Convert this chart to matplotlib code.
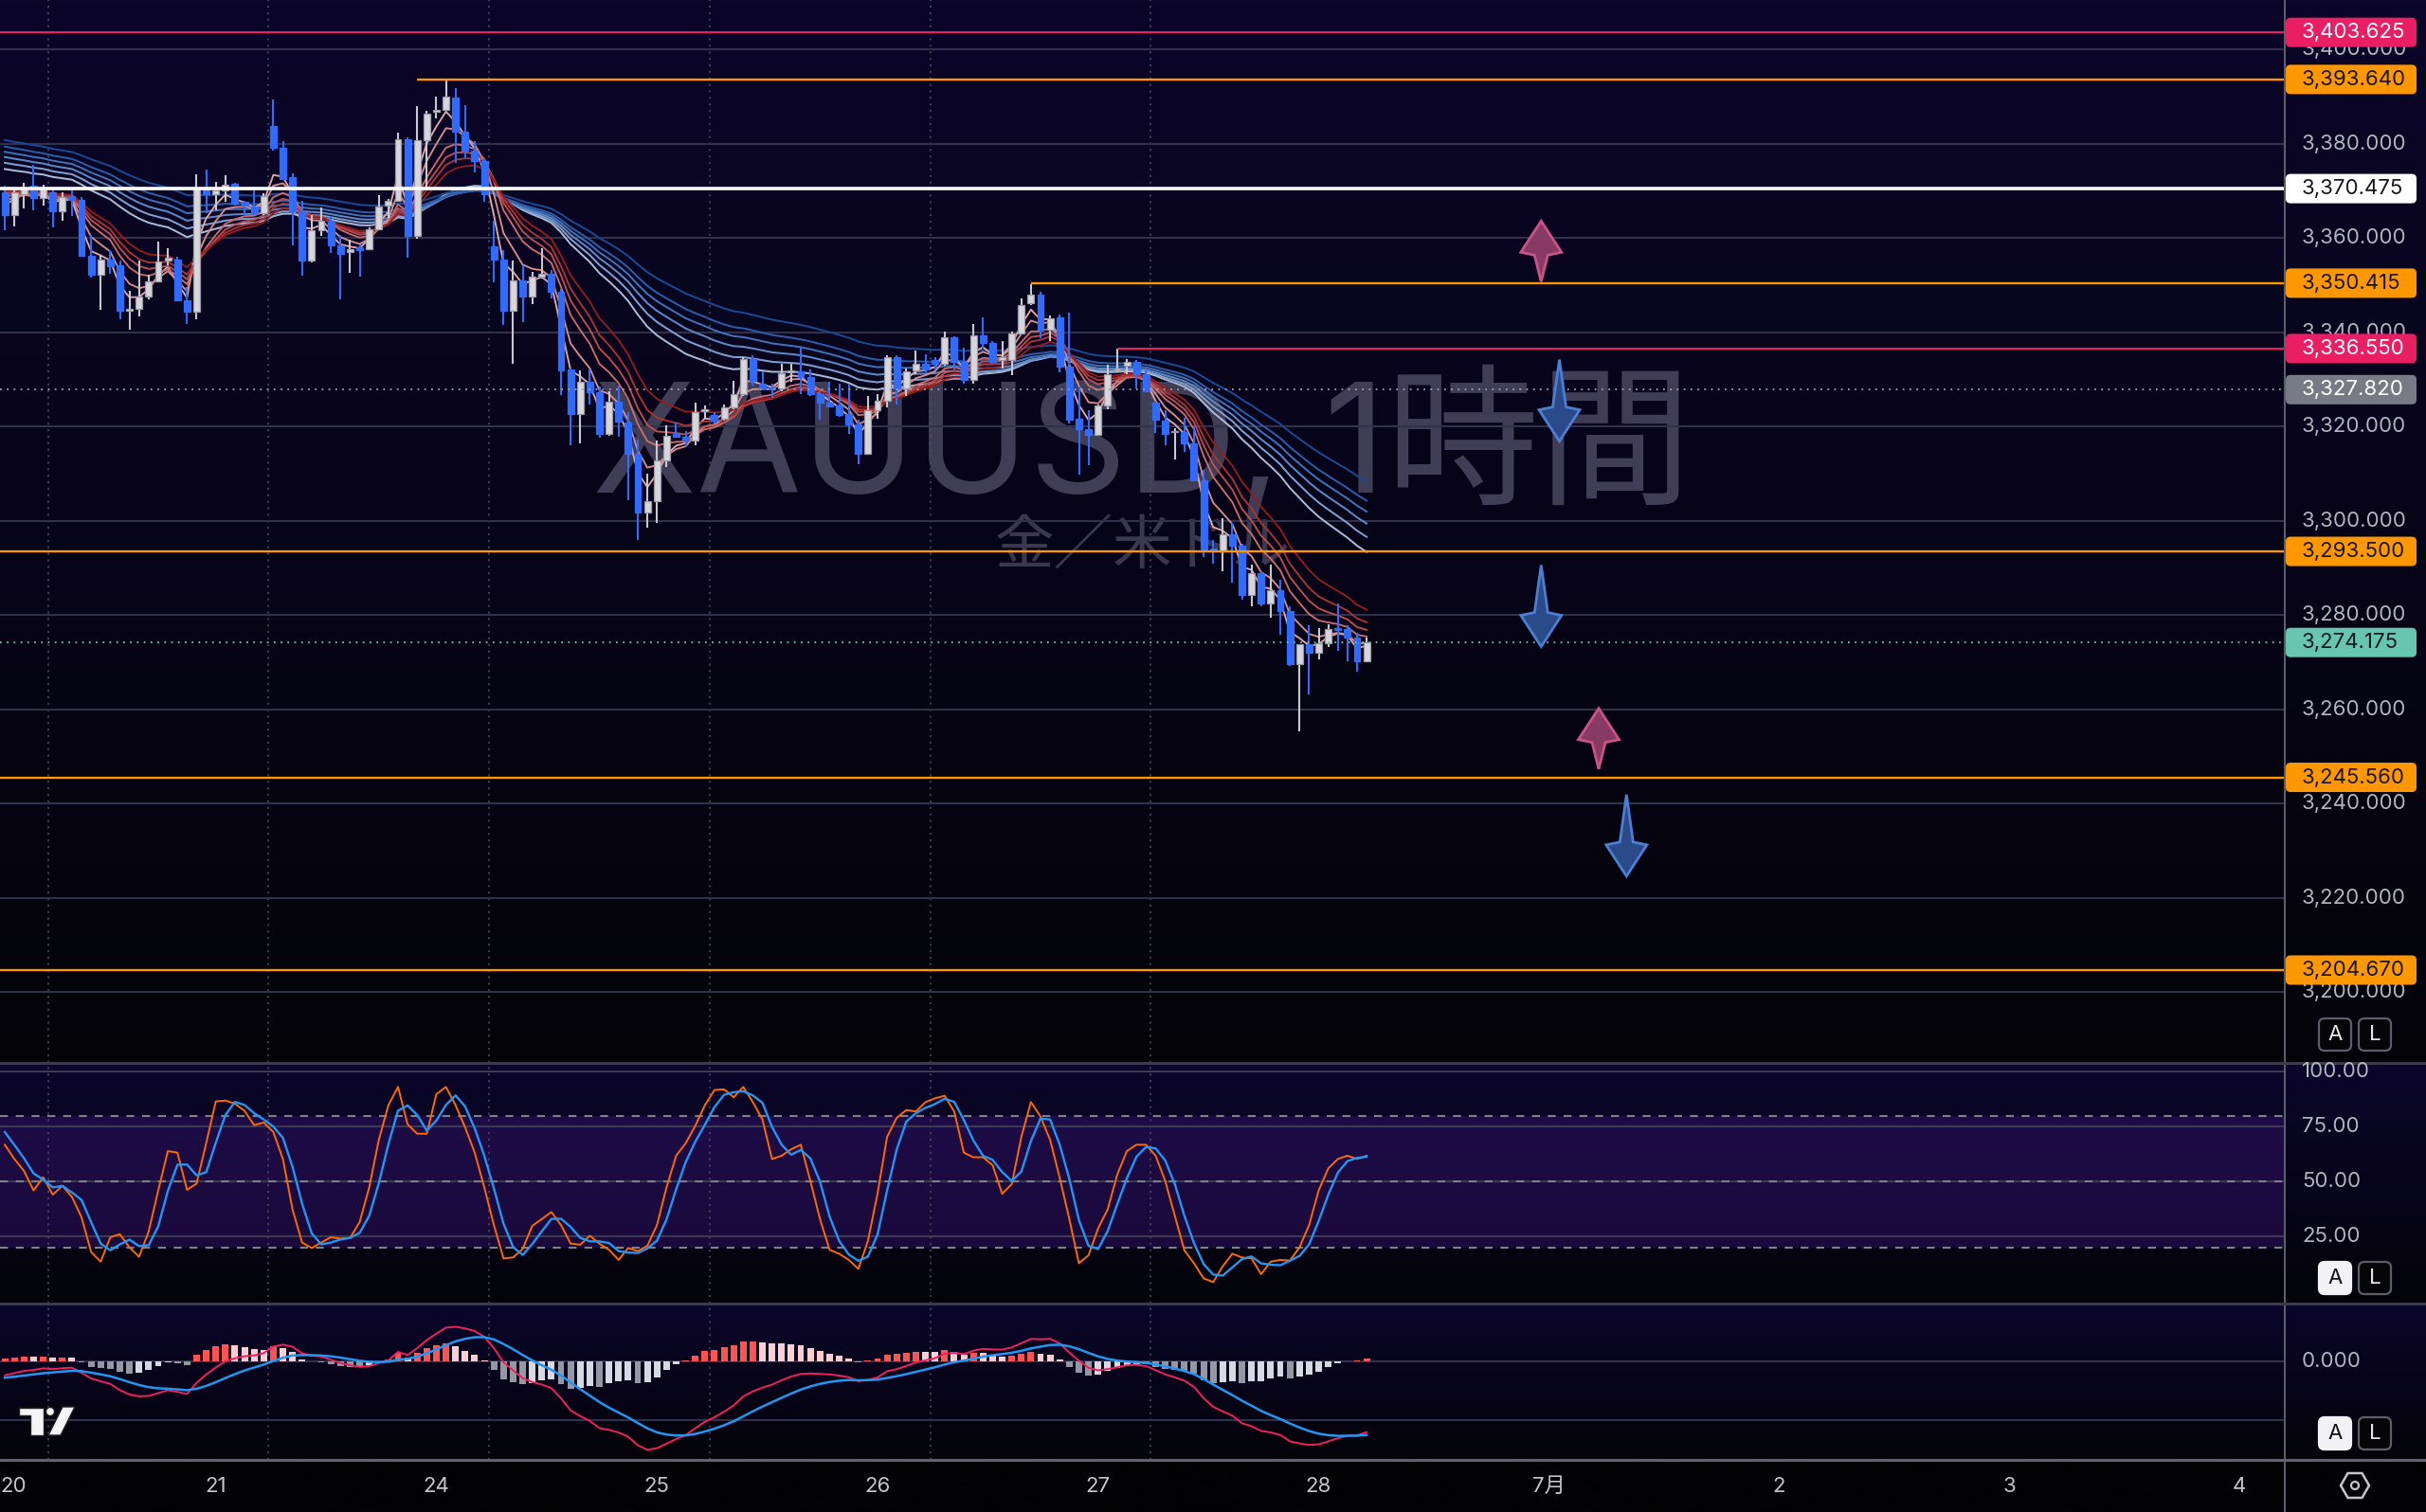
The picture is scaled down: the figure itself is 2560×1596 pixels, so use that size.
import numpy as np
import matplotlib
matplotlib.use("Agg")
import matplotlib.pyplot as plt
import matplotlib.transforms as mtransforms
from matplotlib.patches import Polygon, FancyBboxPatch, Circle, RegularPolygon
from matplotlib.lines import Line2D

# ---------------------------------------------------------------- data
opens = [3369.7, 3364.9, 3369.3, 3371.1, 3368.4, 3369.6, 3365.6, 3368.9, 3368.1, 3356.2,
         3352.3, 3355.4, 3354.2, 3344.5, 3345.0, 3347.5, 3350.8, 3355.2, 3355.5, 3346.8,
         3344.3, 3370.3, 3369.3, 3370.0, 3371.5, 3367.6, 3366.6, 3365.3, 3383.8, 3379.1,
         3373.0, 3365.7, 3355.2, 3361.7, 3363.6, 3358.4, 3357.0, 3358.0, 3357.7, 3361.9,
         3366.9, 3367.9, 3380.9, 3360.4, 3380.7, 3386.7, 3387.2, 3389.8, 3382.5, 3378.6,
         3376.3, 3358.3, 3355.4, 3344.5, 3351.0, 3347.6, 3351.7, 3352.5, 3348.5, 3332.0,
         3322.7, 3329.5, 3327.3, 3318.4, 3325.3, 3320.8, 3314.3, 3301.8, 3304.1, 3312.8,
         3318.4, 3317.9, 3317.0, 3323.3, 3322.4, 3321.7, 3324.1, 3326.9, 3334.4, 3329.1,
         3328.3, 3328.1, 3331.4, 3331.6, 3330.4, 3326.9, 3325.0, 3324.4, 3322.7, 3320.4,
         3314.3, 3323.4, 3325.4, 3334.8, 3328.1, 3331.8, 3333.4, 3334.2, 3333.4, 3338.9,
         3333.8, 3329.9, 3339.3, 3337.8, 3334.2, 3334.1, 3339.8, 3346.2, 3348.0, 3340.5,
         3343.2, 3332.8, 3321.7, 3319.5, 3318.2, 3324.4, 3331.8, 3332.9, 3333.8, 3331.1,
         3325.1, 3321.2, 3318.8, 3318.8, 3316.4, 3308.5, 3294.2, 3293.6, 3297.1, 3294.7,
         3284.2, 3288.9, 3282.5, 3285.2, 3280.8, 3269.6, 3273.8, 3271.9, 3274.1, 3277.3,
         3277.0, 3275.3, 3270.1]
highs = [3371.0, 3370.6, 3371.6, 3375.6, 3371.3, 3370.3, 3369.6, 3370.0, 3368.6, 3360.6,
         3356.2, 3357.4, 3355.2, 3348.8, 3355.2, 3352.2, 3359.2, 3357.9, 3356.1, 3349.5,
         3373.6, 3374.6, 3371.8, 3373.3, 3371.6, 3367.9, 3370.0, 3369.5, 3389.4, 3380.6,
         3373.7, 3367.9, 3364.9, 3366.4, 3364.6, 3360.6, 3359.7, 3358.6, 3362.2, 3369.1,
         3368.3, 3382.3, 3381.3, 3387.9, 3387.0, 3390.0, 3393.7, 3391.7, 3388.2, 3380.5,
         3377.0, 3363.6, 3357.4, 3355.2, 3354.3, 3352.9, 3357.9, 3353.2, 3349.2, 3332.4,
         3331.8, 3332.1, 3328.4, 3327.4, 3328.7, 3323.1, 3317.3, 3310.0, 3317.0, 3320.2,
         3320.8, 3319.0, 3325.0, 3324.4, 3323.1, 3324.7, 3329.7, 3334.8, 3335.1, 3331.6,
         3329.1, 3333.4, 3333.4, 3336.9, 3332.1, 3327.4, 3329.4, 3329.1, 3329.1, 3321.4,
         3326.4, 3326.9, 3335.1, 3335.1, 3332.4, 3336.1, 3335.4, 3334.8, 3340.1, 3339.1,
         3336.7, 3341.8, 3343.2, 3338.1, 3338.1, 3340.1, 3347.2, 3350.2, 3348.5, 3343.5,
         3343.8, 3344.2, 3328.4, 3323.4, 3324.7, 3333.1, 3336.5, 3334.4, 3334.1, 3331.8,
         3325.4, 3323.4, 3319.7, 3321.9, 3320.0, 3310.7, 3295.9, 3300.6, 3299.6, 3295.2,
         3290.6, 3289.3, 3290.6, 3287.5, 3281.8, 3273.8, 3277.8, 3277.2, 3278.1, 3282.5,
         3277.8, 3276.2, 3275.3]
lows = [3361.7, 3362.4, 3366.3, 3365.9, 3366.8, 3362.2, 3363.7, 3364.6, 3356.1, 3351.5,
        3344.8, 3352.5, 3342.7, 3340.5, 3343.3, 3347.0, 3350.8, 3354.2, 3346.5, 3341.8,
        3342.8, 3365.3, 3365.9, 3367.7, 3366.9, 3364.6, 3364.9, 3364.9, 3378.5, 3372.3,
        3358.4, 3352.1, 3354.9, 3360.4, 3356.9, 3347.0, 3352.7, 3351.7, 3357.4, 3361.6,
        3364.3, 3367.6, 3355.9, 3359.9, 3370.3, 3385.4, 3387.0, 3376.0, 3376.9, 3374.0,
        3367.6, 3350.5, 3341.5, 3333.4, 3342.1, 3346.0, 3351.4, 3347.2, 3326.6, 3316.0,
        3316.5, 3324.6, 3317.7, 3318.0, 3317.9, 3304.3, 3295.9, 3298.6, 3299.6, 3311.3,
        3317.7, 3315.7, 3316.0, 3321.7, 3320.7, 3321.3, 3323.7, 3326.4, 3328.6, 3327.7,
        3326.1, 3327.4, 3329.4, 3326.9, 3326.4, 3321.4, 3324.1, 3322.1, 3318.4, 3312.0,
        3314.0, 3321.7, 3324.1, 3324.7, 3326.4, 3331.1, 3331.4, 3331.8, 3332.9, 3332.1,
        3329.1, 3329.1, 3336.5, 3333.4, 3332.4, 3330.8, 3339.5, 3345.8, 3338.8, 3338.1,
        3331.4, 3320.7, 3309.7, 3311.7, 3318.0, 3323.7, 3331.4, 3331.1, 3328.1, 3327.4,
        3318.7, 3316.0, 3313.0, 3314.7, 3308.3, 3292.4, 3290.9, 3289.2, 3286.9, 3283.2,
        3281.8, 3281.8, 3279.5, 3275.8, 3269.1, 3255.4, 3263.2, 3270.6, 3273.2, 3272.5,
        3270.1, 3267.9, 3269.9]
closes = [3364.9, 3369.6, 3370.3, 3368.4, 3370.2, 3365.6, 3368.6, 3368.1, 3356.2, 3352.3,
          3355.4, 3354.1, 3344.5, 3345.0, 3347.5, 3350.7, 3355.0, 3355.8, 3346.8, 3344.3,
          3370.6, 3369.3, 3370.0, 3371.3, 3367.3, 3366.8, 3365.3, 3368.9, 3379.1, 3372.6,
          3365.6, 3355.2, 3361.7, 3363.6, 3358.4, 3356.7, 3357.7, 3357.5, 3361.9, 3366.6,
          3367.9, 3380.9, 3360.4, 3380.7, 3386.4, 3387.2, 3390.0, 3382.5, 3378.6, 3376.3,
          3369.3, 3355.5, 3344.5, 3351.0, 3347.6, 3351.7, 3352.5, 3348.5, 3332.0, 3322.7,
          3329.4, 3327.3, 3318.4, 3325.3, 3321.0, 3314.3, 3301.8, 3304.1, 3312.8, 3318.0,
          3317.9, 3317.0, 3323.0, 3323.7, 3321.2, 3324.1, 3326.9, 3334.4, 3329.6, 3328.1,
          3327.9, 3331.3, 3331.8, 3330.4, 3326.9, 3325.0, 3324.2, 3322.4, 3320.4, 3314.3,
          3323.4, 3325.4, 3334.8, 3328.1, 3331.6, 3333.4, 3332.1, 3333.4, 3338.9, 3333.8,
          3329.9, 3339.3, 3337.8, 3333.8, 3334.8, 3339.8, 3345.8, 3348.0, 3340.5, 3343.0,
          3332.8, 3321.5, 3319.5, 3318.2, 3324.4, 3331.1, 3332.4, 3333.8, 3331.1, 3327.5,
          3321.4, 3318.4, 3319.0, 3316.4, 3308.5, 3294.0, 3293.6, 3297.1, 3294.7, 3284.2,
          3288.9, 3282.4, 3285.2, 3280.8, 3269.6, 3273.8, 3271.9, 3274.1, 3277.0, 3276.8,
          3275.3, 3270.1, 3274.175]

# Stochastic RSI %K; two values before the first bar for the %D average
stoch_k = [66.8, 60.3, 54.9, 46.0, 52.0, 44.1, 48.1, 43.1, 33.8, 18.0,
           13.6, 24.7, 26.1, 20.1, 15.8, 27.3, 46.0, 63.9, 63.2, 46.3,
           49.1, 67.5, 86.5, 86.9, 85.5, 82.2, 75.7, 76.9, 72.6, 60.3,
           37.4, 22.3, 19.8, 22.3, 24.7, 24.1, 24.4, 31.6, 47.4, 69.0,
           84.8, 93.1, 76.1, 71.8, 71.8, 89.8, 93.1, 84.8, 74.7, 63.2,
           47.4, 30.2, 15.1, 15.5, 19.4, 29.9, 33.0, 36.2, 30.2, 21.8,
           21.3, 25.4, 21.8, 19.0, 14.4, 19.8, 18.4, 20.8, 30.2, 47.4,
           61.8, 67.5, 75.4, 84.8, 91.7, 92.0, 88.4, 93.1, 86.2, 78.3,
           60.3, 61.8, 64.7, 66.8, 50.3, 33.0, 19.0, 17.2, 14.4, 10.3,
           23.0, 44.5, 70.4, 79.0, 82.6, 81.9, 86.2, 87.9, 89.1, 81.9,
           63.2, 61.1, 61.1, 57.5, 44.5, 48.9, 70.4, 86.2, 79.6, 69.0,
           51.7, 33.0, 12.9, 16.5, 28.7, 37.4, 53.2, 63.9, 66.8, 66.8,
           61.8, 50.3, 34.5, 18.7, 12.9, 6.0, 4.3, 11.5, 17.2, 15.5,
           15.1, 7.9, 13.6, 14.4, 14.1, 20.1, 30.2, 46.0, 56.0, 60.3,
           61.8, 60.3, 61.8]
stoch_k_prev = [78.0, 73.0]

# GMMA ribbons: periods and their values just before the first visible bar
ema_short_periods = [3, 5, 8, 10, 12, 15]
ema_short_seeds = [3369.0, 3369.5, 3370.0, 3370.3, 3370.6, 3370.9]
ema_long_periods = [30, 35, 40, 45, 50, 60]
ema_long_seeds = [3375.3, 3376.6, 3377.8, 3378.9, 3380.0, 3381.3]

# MACD(12, 26, 9) state just before the first visible bar
macd_fast_seed = 3367.64
macd_slow_seed = 3370.0
macd_signal_seed = -2.9

# time axis
day_labels = ['20', '21', '24', '25', '26', '27', '28', '7月', '2', '3', '4']
day_label_bars = [-1, 22, 45, 68, 91, 114, 137, 161, 185, 209, 233]
session_break_bars = [4.5, 27.5, 50.5, 73.5, 96.5, 119.5]

# horizontal levels drawn on the chart
level_prices = [3403.625, 3393.64, 3370.475, 3350.415, 3336.55, 3293.5, 3245.56, 3204.67]
level_start_bars = [None, 43, None, 107, 116, None, None, None]
level_kinds = ['pink', 'orange', 'white', 'orange', 'pink', 'orange', 'orange', 'orange']
prev_close_price = 3327.82
last_price = 3274.175

# arrow marks in the future area
arrow_bars = [160.2, 162.1, 160.2, 166.2, 169.1]
arrow_tip_prices = [3363.6, 3316.9, 3273.3, 3260.2, 3224.6]
arrow_dirs = ['up', 'down', 'down', 'up', 'down']

price_ticks = [3200, 3220, 3240, 3260, 3280, 3300, 3320, 3340, 3360, 3380, 3400]
stoch_ticks = [25, 50, 75, 100]
macd_ticks = [0]

# ---------------------------------------------------------------- layout
W, H, DPI = 2560, 1596, 100
ID = mtransforms.IdentityTransform()
AXR = 2411
PANES = {'main': (0, 1122), 'stoch': (1122, 1376), 'macd': (1376, 1541)}
XLIM = (-0.5, AXR / 10.12 - 0.5)

FONT = ['Inter', 'Noto Sans CJK JP', 'DejaVu Sans']
CJK = ['Inter', 'Noto Sans CJK JP', 'DejaVu Sans']
TXT = '#b2b5be'
GRID = '#30324a'
PINK = '#e91e63'
ORANGE = '#ff9800'
TEAL = '#66c6b0'
UP_FACE, UP_EDGE, UP_WICK = '#d6d6dc', '#9a9aa4', '#c8c8d0'
DN = '#2f6bff'
FS = 16

fig = plt.figure(figsize=(W / DPI, H / DPI), dpi=DPI)
fig.patch.set_facecolor('#030305')


def rect(x0, y0, x1, y1):
    return [x0 / W, 1 - y1 / H, (x1 - x0) / W, (y1 - y0) / H]


def background(y0, y1, top, bot):
    a = fig.add_axes(rect(0, y0, W, y1), zorder=0)
    g = np.linspace(0, 1, 256)[:, None, None]
    t = np.array(top, float)[None, None, :] / 255
    b = np.array(bot, float)[None, None, :] / 255
    a.imshow(t * (1 - g) + b * g, aspect='auto', extent=[0, 1, 0, 1], origin='upper')
    a.set_axis_off()


background(0, 1122, (11, 6, 40), (3, 3, 8))
background(1122, 1376, (11, 6, 42), (3, 3, 9))
background(1376, 1541, (11, 6, 42), (3, 3, 8))
background(1541, 1596, (3, 3, 5), (3, 3, 5))


def make_ax(name, ylim):
    y0, y1 = PANES[name]
    a = fig.add_axes(rect(0, y0, AXR, y1), zorder=2)
    a.set_facecolor('none')
    a.set_xlim(*XLIM)
    a.set_ylim(*ylim)
    for s in a.spines.values():
        s.set_visible(False)
    a.set_xticks([])
    a.set_yticks([])
    for b in session_break_bars:
        a.axvline(b, color='#4a4c5e', lw=1.1, ls=(0, (1.5, 3)), zorder=1)
    return a


ax = make_ax('main', (3380 - (1122 - 151.7) / 4.975, 3380 + 151.7 / 4.975))
axs = make_ax('stoch', (50 - 128.7 / 2.32, 50 + 125.3 / 2.32))
axm = make_ax('macd', (-(1541 - 1436.7) / 6.23, (1436.7 - 1376) / 6.23))

x = np.arange(len(closes))
o = np.array(opens); h = np.array(highs); l = np.array(lows); c = np.array(closes)

# ---------------------------------------------------------------- watermark
fig.text(1205, H - 520, 'XAUUSD, 1時間', transform=ID, ha='center', va='baseline',
         fontsize=116, color='#403e56', family=CJK, zorder=1.5)
fig.text(1206, H - 579, '金／米ドル', transform=ID, ha='center', va='center',
         fontsize=45, color='#3a384e', family=CJK, zorder=1.5)

# ---------------------------------------------------------------- main pane
for p in price_ticks:
    ax.axhline(p, color=GRID, lw=1.5, zorder=1)


def ema(vals, period, seed):
    a = 2.0 / (period + 1)
    e = seed
    out = []
    for v in vals:
        e = e + a * (v - e)
        out.append(e)
    return np.array(out)


blue_cols = ['#a9b9d6', '#7f9fd0', '#5e88c6', '#3f70b8', '#2a5ca8', '#1a4892']
red_cols = ['#e0a8a8', '#d88c8c', '#cc6c6c', '#bf4e4e', '#ad3434', '#961c1c']
for per, sd, col in zip(ema_long_periods, ema_long_seeds, blue_cols):
    ax.plot(x, ema(closes, per, sd), color=col, lw=1.45, zorder=3)
for per, sd, col in zip(ema_short_periods, ema_short_seeds, red_cols):
    ax.plot(x, ema(closes, per, sd), color=col, lw=1.35, zorder=3.2)

up = c >= o
wick_cols = [UP_WICK if u else DN for u in up]
ax.vlines(x, l, h, colors=wick_cols, lw=1.5, zorder=4)
body_h = np.maximum(np.abs(c - o), 0.2)
ax.bar(x, body_h, bottom=np.minimum(o, c), width=0.68,
       color=[UP_FACE if u else DN for u in up],
       edgecolor=[UP_EDGE if u else DN for u in up], lw=0.9, zorder=5)

kind_col = {'pink': PINK, 'orange': ORANGE, 'white': '#ffffff'}
kind_lw = {'pink': 1.5, 'orange': 1.7, 'white': 2.6}
for p, sb, k in zip(level_prices, level_start_bars, level_kinds):
    ax.hlines(p, XLIM[0] if sb is None else sb, XLIM[1], color=kind_col[k], lw=kind_lw[k], zorder=6)
ax.axhline(prev_close_price, color='#a0a0ae', lw=1.3, ls=(0, (1, 3)), zorder=6)
ax.axhline(last_price, color=TEAL, lw=1.3, ls=(0, (1, 3)), zorder=6)

# arrow marks
arrow_style = {'up': dict(face='#873a64', edge='#cc5287', L=64),
               'down': dict(face='#2b4a8a', edge='#4b7fd4', L=86)}
inv = ax.transData.inverted()
for b, p, d in zip(arrow_bars, arrow_tip_prices, arrow_dirs):
    st = arrow_style[d]
    tx, ty = ax.transData.transform((b, p))
    s = -1 if d == 'up' else 1
    offs = [(0, 0), (21.5, 33 * s), (7, 36 * s), (0, st['L'] * s), (-7, 36 * s), (-21.5, 33 * s)]
    verts = inv.transform([(tx + dx, ty + dy) for dx, dy in offs])
    ax.add_patch(Polygon(verts, closed=True, fc=st['face'], ec=st['edge'], lw=2.0, zorder=7))

# ---------------------------------------------------------------- stochastic RSI pane
axs.axhspan(20, 80, color='#4a1896', alpha=0.32, lw=0, zorder=0.5)
for v in stoch_ticks:
    axs.axhline(v, color='#3a3a52', lw=1.5, zorder=1)
for v in (20, 50, 80):
    axs.axhline(v, color='#80808c', lw=1.5, ls=(0, (4, 4)), zorder=1.2)
k_all = stoch_k_prev + stoch_k
stoch_d = [np.mean(k_all[i:i + 3]) for i in range(len(stoch_k))]
axs.plot(x, stoch_k, color='#ff6a00', lw=1.4, zorder=3)
axs.plot(x, stoch_d, color='#2196f3', lw=1.7, zorder=3.1)

# ---------------------------------------------------------------- MACD pane
for v in (0, -10):
    axm.axhline(v, color='#30324a', lw=1.5, zorder=1)
macd = ema(closes, 12, macd_fast_seed) - ema(closes, 26, macd_slow_seed)
signal = ema(macd, 9, macd_signal_seed)
hist = macd - signal
hcols = []
for i, v in enumerate(hist):
    prev = hist[i - 1] if i > 0 else v
    if v >= 0:
        hcols.append('#ff5252' if v >= prev else '#ffcdd2')
    else:
        hcols.append('#9598a4' if v < prev else '#d6d8e2')
axm.bar(x, hist, width=0.68, color=hcols, zorder=2)
axm.plot(x, macd, color='#f0205e', lw=1.4, zorder=3)
axm.plot(x, signal, color='#2196f3', lw=1.8, zorder=3.1)

# ---------------------------------------------------------------- frame lines
fig.add_artist(Line2D([AXR, AXR], [0, H], transform=ID, color='#5a5d6a', lw=1.5, zorder=8))
for yy, col in ((1122, '#3a3c4c'), (1376, '#3a3c4c'), (1541, '#60626c')):
    fig.add_artist(Line2D([0, W], [H - yy, H - yy], transform=ID, color=col, lw=2.2, zorder=8))

# ---------------------------------------------------------------- right price scale
LX = 2429


def ydisp(a, v):
    return a.transData.transform((0, v))[1]


for p in price_ticks:
    fig.text(LX, ydisp(ax, p), f'{p:,.3f}', transform=ID, ha='left', va='center',
             fontsize=FS, color=TXT, family=FONT, zorder=9)
for v in stoch_ticks:
    fig.text(LX, ydisp(axs, v), f'{v:.2f}', transform=ID, ha='left', va='center',
             fontsize=FS, color=TXT, family=FONT, zorder=9)
for v in macd_ticks:
    fig.text(LX, ydisp(axm, v), f'{v:.3f}', transform=ID, ha='left', va='center',
             fontsize=FS, color=TXT, family=FONT, zorder=9)

label_style = {'pink': (PINK, '#ffffff'), 'orange': (ORANGE, '#131722'), 'white': ('#ffffff', '#131722')}
labels = [(p, *label_style[k]) for p, k in zip(level_prices, level_kinds)]
labels.append((prev_close_price, '#787b86', '#ffffff'))
labels.append((last_price, TEAL, '#131722'))
for p, bgc, fgc in labels:
    yc = ydisp(ax, p)
    fig.add_artist(FancyBboxPatch((AXR + 1, yc - 15.5), 138, 31,
                                  boxstyle='round,pad=0,rounding_size=5',
                                  transform=ID, fc=bgc, ec='none', zorder=10))
    fig.text(LX, yc, f'{p:,.3f}', transform=ID, ha='left', va='center',
             fontsize=FS, color=fgc, family=FONT, zorder=11)


# A / L buttons
def button(cx, cy, letter, filled):
    fig.add_artist(FancyBboxPatch((cx - 17, H - cy - 17), 34, 34,
                                  boxstyle='round,pad=0,rounding_size=6', transform=ID,
                                  fc='#f2f2f4' if filled else '#060608',
                                  ec='#f2f2f4' if filled else '#5c5f6a', lw=1.6, zorder=10))
    fig.text(cx, H - cy, letter, transform=ID, ha='center', va='center', fontsize=FS,
             color='#111111' if filled else '#e6e6ea', family=FONT, zorder=11)


for cy, filled in ((1092, False), (1349, True), (1513, True)):
    button(2464, cy, 'A', filled)
    button(2506, cy, 'L', False)

# settings icon
fig.add_artist(RegularPolygon((2485, H - 1568), numVertices=6, radius=15, orientation=np.pi / 6,
                              transform=ID, fc='none', ec='#c4c6cc', lw=1.8, zorder=10))
fig.add_artist(Circle((2485, H - 1568), 4, transform=ID, fc='none', ec='#c4c6cc', lw=1.6, zorder=10))

# ---------------------------------------------------------------- time axis
for lab, b in zip(day_labels, day_label_bars):
    xd = ax.transData.transform((b, 0))[0]
    xd = max(xd, 14)
    fig.text(xd, H - 1569, lab, transform=ID, ha='center', va='center', fontsize=FS,
             color='#c4c6cc', family=CJK, zorder=9)

# ---------------------------------------------------------------- TradingView logo
logo = '#f4f4f6'
for poly in ([(20, 1486), (46, 1486), (46, 1515), (32, 1515), (32, 1494), (20, 1494)],
             [(66, 1485), (79, 1485), (64, 1515), (51, 1515)]):
    fig.add_artist(Polygon([(px, H - py) for px, py in poly], closed=True, transform=ID,
                           fc=logo, ec='#222222', lw=1.0, zorder=10))
fig.add_artist(Circle((53, H - 1490), 4.5, transform=ID, fc=logo, ec='#222222', lw=1.0, zorder=10))

fig.savefig('out.png', dpi=DPI, facecolor=fig.get_facecolor())
